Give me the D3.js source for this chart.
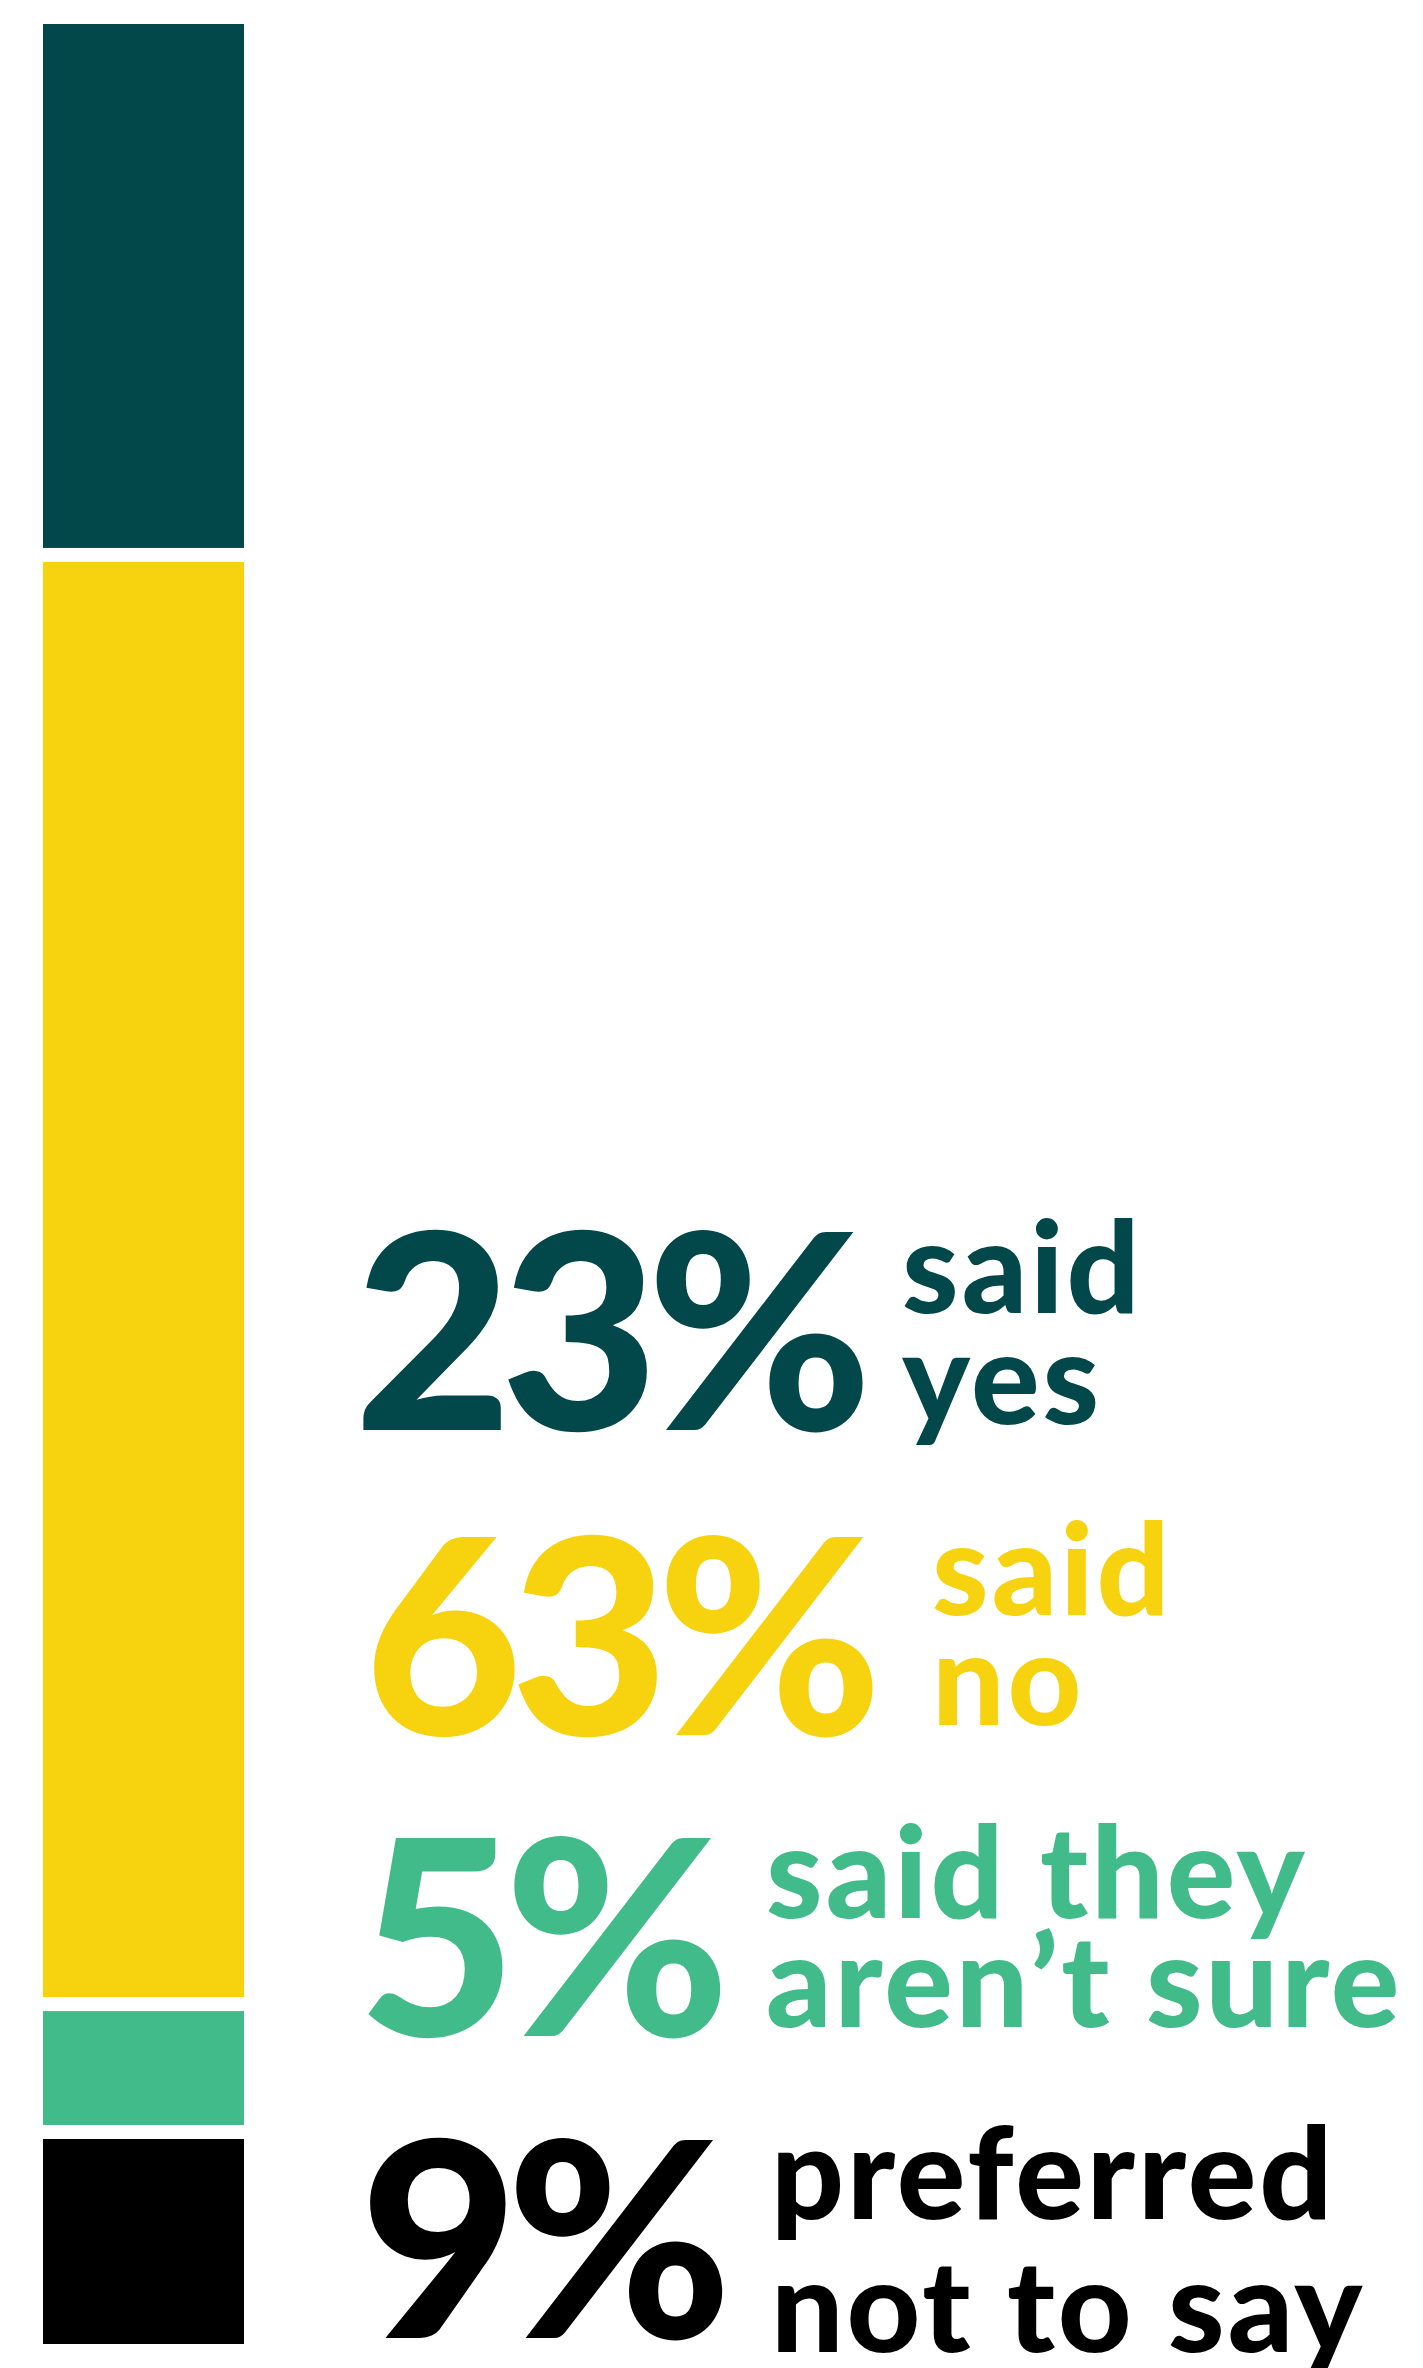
<!DOCTYPE html>
<html>
<head>
<meta charset="utf-8">
<script src="https://cdn.jsdelivr.net/npm/d3@7"></script>
<style>
  html, body { margin: 0; padding: 0; background: #ffffff; }
  svg { display: block; }
  text { font-family: Lato, "Open Sans", sans-serif; font-weight: 900; }
</style>
</head>
<body>
<svg id="chart"></svg>
<script>
// Survey answers, stacked top to bottom
const categories = ["yes", "no", "not sure", "prefer not to say"];
const values = [23, 63, 5, 9];
const valueLabels = ["23%", "63%", "5%", "9%"];
const captionLines = [
  ["said", "yes"],
  ["said", "no"],
  ["said they", "aren’t sure"],
  ["preferred", "not to say"]
];
const palette = ["#02474a", "#f7d20e", "#41bb89", "#000000"];

const W = 1423, H = 2368;
const svg = d3.select("#chart").attr("width", W).attr("height", H);

// Single stacked column
const barX = 43, barW = 201, barTop = 24, gap = 14;
const y = d3.scaleLinear().domain([0, 100]).range([0, 2278]);

const stacked = values.map((v, i) => ({
  key: categories[i],
  value: v,
  index: i,
  start: d3.sum(values.slice(0, i))
}));

svg.append("g")
  .selectAll("rect")
  .data(stacked)
  .join("rect")
  .attr("x", barX)
  .attr("width", barW)
  .attr("y", d => barTop + y(d.start) + d.index * gap)
  .attr("height", d => y(d.value))
  .attr("fill", d => palette[d.index]);

// Big percentage figures with their captions
const layout = [
  { numX: 354, numY: 1430, textX: 902, lineY: [1313, 1424] },
  { numX: 364, numY: 1735, textX: 932, lineY: [1615, 1725] },
  { numX: 358, numY: 2036, textX: 766, lineY: [1918, 2027] },
  { numX: 360, numY: 2338, textX: 771, lineY: [2219, 2352] }
];

const labels = svg.append("g")
  .selectAll("g")
  .data(stacked)
  .join("g")
  .attr("fill", d => palette[d.index]);

labels.append("text")
  .attr("x", d => layout[d.index].numX)
  .attr("y", d => layout[d.index].numY)
  .attr("font-size", 273)
  .attr("letter-spacing", -12)
  .text(d => valueLabels[d.index]);

labels.each(function(d) {
  const g = d3.select(this);
  const L = layout[d.index];
  g.selectAll("text.caption")
    .data(captionLines[d.index])
    .join("text")
    .attr("class", "caption")
    .attr("x", L.textX)
    .attr("y", (t, j) => L.lineY[j])
    .attr("font-size", 128)
    .attr("letter-spacing", 3)
    .text(t => t);
});
</script>
</body>
</html>
